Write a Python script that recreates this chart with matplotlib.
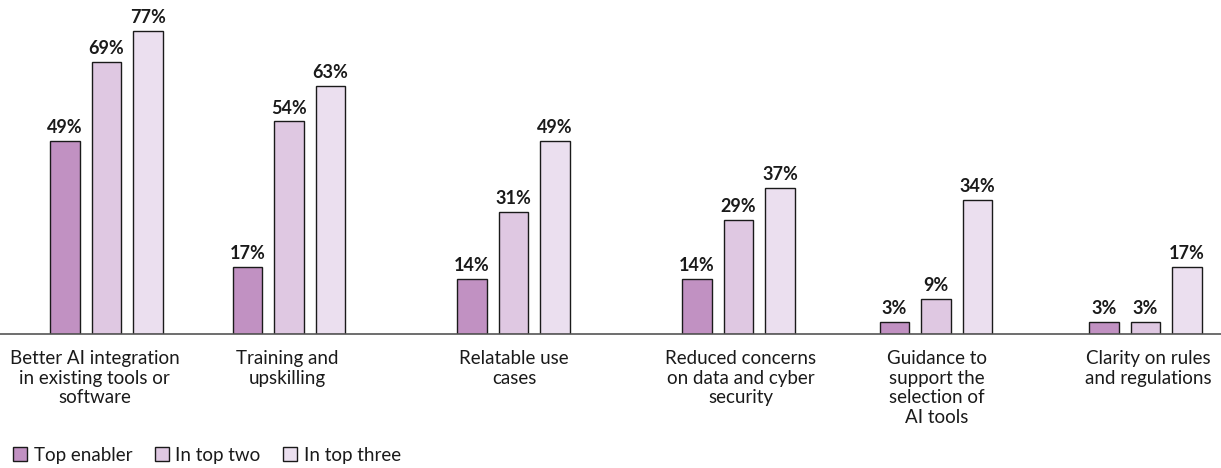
import matplotlib.pyplot as plt
from matplotlib.patches import Patch

# Data
categories = [
    "Better AI integration\nin existing tools or\nsoftware",
    "Training and\nupskilling",
    "Relatable use\ncases",
    "Reduced concerns\non data and cyber\nsecurity",
    "Guidance to\nsupport the\nselection of\nAI tools",
    "Clarity on rules\nand regulations",
]
top_enabler = [49, 17, 14, 14, 3, 3]
top_two = [69, 54, 31, 29, 9, 3]
top_three = [77, 63, 49, 37, 34, 17]
series_names = ["Top enabler", "In top two", "In top three"]

# Layout (pixel-like x coordinates across the figure width)
group_x = [106.5, 289, 513.5, 738.5, 936, 1145.5]
label_x = [94.5, 287, 514, 741, 937, 1148]
colors = ["#C191C2", "#DFC8E2", "#EBDFEF"]
bar_w = 29.5
pitch = 41.5

plt.rcParams["font.family"] = ["Lato", "DejaVu Sans"]

fig = plt.figure(figsize=(12.21, 4.68), dpi=100)
ax = fig.add_axes([0, 134 / 468, 1, 315 / 468])
ax.set_xlim(0, 1221)
ax.set_ylim(0, 80)

for i, vals in enumerate([top_enabler, top_two, top_three]):
    xs = [g + (i - 1) * pitch for g in group_x]
    ax.bar(xs, vals, width=bar_w, color=colors[i], edgecolor="#1a1a1a",
           linewidth=1.0, zorder=2)
    for x, v in zip(xs, vals):
        ax.annotate(f"{v}%", (x, v), xytext=(0, 3.5), textcoords="offset points",
                    ha="center", va="bottom", fontsize=13, fontweight="bold",
                    color="#1a1a1a")

# Category labels below the axis
for x, lab in zip(label_x, categories):
    ax.text(x, -4.0, lab, ha="center", va="top", fontsize=13.5,
            color="#1a1a1a", linespacing=1.2)

for s in ["top", "right", "left"]:
    ax.spines[s].set_visible(False)
ax.spines["bottom"].set_color("#555555")
ax.spines["bottom"].set_linewidth(1.2)
ax.set_xticks([])
ax.set_yticks([])

handles = [Patch(facecolor=c, edgecolor="#1a1a1a", linewidth=1.0) for c in colors]
fig.legend(handles, series_names, loc="center left",
           bbox_to_anchor=(-0.003, 13 / 468), ncol=3, frameon=False,
           fontsize=13.5, handlelength=0.75, handleheight=0.75,
           handletextpad=0.35, columnspacing=1.2, labelcolor="#1a1a1a")

fig.savefig("out.png", dpi=100)
